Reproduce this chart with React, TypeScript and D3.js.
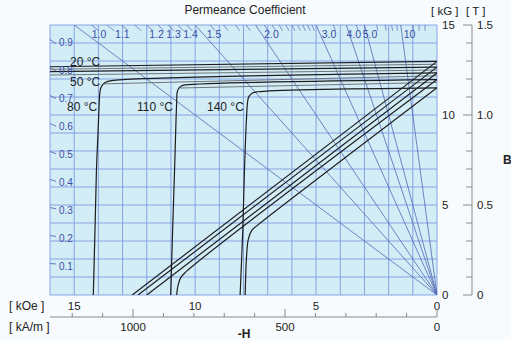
import React from "react";
import * as d3 from "d3";

// ---------- data (H in kOe as positive -H, B/J in kG) ----------
const temperatures = ["20 °C", "50 °C", "80 °C", "110 °C", "140 °C"];

const jCurve20 = [[0, 12.98], [16, 12.68]];
const jCurve50 = [[0, 12.66], [16, 12.41]];
const jCurve80 = [[0, 12.34], [13.45, 11.91], [13.7, 11.82], [13.88, 11.57], [13.94, 11.24], [13.96, 10.83], [14.01, 9.17], [14.08, 6.94], [14.14, 3.61], [14.21, 0]];
const jCurve110 = [[0, 11.97], [10.41, 11.67], [10.57, 11.61], [10.7, 11.43], [10.75, 11.19], [10.76, 10.83], [10.79, 9.72], [10.85, 6.94], [10.93, 3.61], [11.01, 0]];
const jCurve140 = [[0, 11.51], [7.42, 11.29], [7.63, 11.22], [7.78, 11.02], [7.83, 10.74], [7.88, 9.72], [7.96, 6.94], [8.03, 3.61], [8.14, 0]];

// grey companion lines just below the upper J curves
const jGrey20 = [[0, 12.82], [16, 12.54]];
const jGrey50 = [[0, 12.5], [16, 12.22]];
const jGrey80 = [[0, 12.18], [13.77, 11.73]];
const jGrey110 = [[0, 11.81], [10.62, 11.5]];

const bCurve20 = [[0, 12.98], [12.6, 0]];
const bCurve50 = [[0, 12.66], [12.36, 0]];
const bCurve80 = [[0, 12.34], [12.0, 0]];
const bCurve110 = [[0, 11.97], [10.4, 1.26], [10.6, 0.95], [10.72, 0.45], [10.76, 0]];
const bCurve140 = [[0, 11.51], [7.45, 3.84], [7.65, 3.6], [7.8, 3.1], [7.88, 2.0], [7.93, 0]];

const jCurves = [jCurve20, jCurve50, jCurve80, jCurve110, jCurve140];
const jGreyCurves = [jGrey20, jGrey50, jGrey80, jGrey110];
const bCurves = [bCurve20, bCurve50, bCurve80, bCurve110, bCurve140];

const permeanceLines = [1.0, 1.5, 2.0, 3.0, 4.0, 5.0, 10];
const permeanceLabelValues = [1.0, 1.1, 1.2, 1.3, 1.4, 1.5, 2.0, 3.0, 4.0, 5.0, 10];
const permeanceLabelText = ["1.0", "1.1", "1.2", "1.3", "1.4", "1.5", "2.0", "3.0", "4.0", "5.0", "10"];
const permeanceMinor = [1.05, 1.1, 1.15, 1.2, 1.25, 1.3, 1.35, 1.4, 1.45, 1.6, 1.7, 1.8, 1.9, 2.1, 2.2, 2.3, 2.4, 2.5, 2.6, 2.7, 2.8, 2.9, 3.5, 4.5, 6, 7, 8, 9, 15, 20, 30];
const leftScaleValues = [0.1, 0.2, 0.3, 0.4, 0.5, 0.6, 0.7, 0.8, 0.9];
const leftScaleText = ["0.1", "0.2", "0.3", "0.4", "0.5", "0.6", "0.7", "0.8", "0.9"];

const kOeTicks = [15, 10, 5, 0];
const kAmTicks = [0, 100, 200, 300, 400, 500, 600, 700, 800, 900, 1000, 1100, 1200];
const kAmLabels = [1000, 500, 0];
const kGTicks = [15, 10, 5, 0];
const teslaTicks = [0, 0.1, 0.2, 0.3, 0.4, 0.5, 0.6, 0.7, 0.8, 0.9, 1.0, 1.1, 1.2, 1.3, 1.4, 1.5];
const teslaLabels = [1.5, 1.0, 0.5, 0];

// ---------- layout ----------
const W = 511, HT = 340;
const X0 = 50, X1 = 437, Y0 = 25, Y1 = 295;
const FONT = "'Liberation Sans', Arial, sans-serif";
const BLUE_TXT = "#3a4ea6";
const GRID = "#7d9be0";
const PC = "#4b5fae";
const CURVE = "#1d1d1d";
const AXIS = "#8a8a8a";

export default function App() {
  const x = d3.scaleLinear().domain([0, 16]).range([X1, X0]);
  const y = d3.scaleLinear().domain([0, 15]).range([Y1, Y0]);
  const xA = d3.scaleLinear().domain([0, (16 * 1000) / (4 * Math.PI)]).range([X1, X0]);
  const yT = d3.scaleLinear().domain([0, 1.5]).range([Y1, Y0]);
  const yLeft = d3.scaleLinear().domain([0, 1]).range([Y1, 15]);

  const line = d3
    .line<number[]>()
    .x((d) => x(d[0]))
    .y((d) => y(d[1]))
    .curve(d3.curveCatmullRom.alpha(0.5));

  const pcEnd = (pc: number) => {
    const h = Math.min(16, 15 / pc);
    return [h, pc * h];
  };

  const labelNudge: Record<string, number> = { "1.1": -8, "1.3": -5, "1.4": -7, "4.0": -4, "5.0": -5 };

  return (
    <svg width={W} height={HT} style={{ position: "absolute", left: 0, top: 0 }} fontFamily={FONT}>
      <defs>
        <clipPath id="plotclip">
          <rect x={X0} y={Y0} width={X1 - X0} height={Y1 - Y0} />
        </clipPath>
      </defs>
      <rect x={0} y={0} width={W} height={HT} fill="#f8fbfd" />
      <rect x={X0} y={Y0} width={X1 - X0} height={Y1 - Y0} fill="#d3edf7" />

      {/* grid */}
      <g stroke={GRID} strokeWidth={0.9}>
        {d3.range(0, 17).map((h) => (
          <line key={"gx" + h} x1={x(h)} x2={x(h)} y1={Y0} y2={Y1} />
        ))}
        {d3.range(0, 16).map((b) => (
          <line key={"gy" + b} x1={X0} x2={X1} y1={y(b)} y2={y(b)} />
        ))}
      </g>

      <g clipPath="url(#plotclip)">
        {/* permeance lines */}
        {permeanceLines.map((pc) => {
          const [h, b] = pcEnd(pc);
          return <line key={"pc" + pc} x1={x(0)} y1={y(0)} x2={x(h)} y2={y(b)} stroke={PC} strokeWidth={0.75} />;
        })}
        {/* permeance hatch ticks at the top edge */}
        {permeanceMinor.map((pc) => {
          const [h, b] = pcEnd(pc);
          const b2 = b - 0.32;
          const h2 = b2 / pc;
          return <line key={"pm" + pc} x1={x(h)} y1={y(b)} x2={x(h2)} y2={y(b2)} stroke={PC} strokeWidth={0.65} />;
        })}
        {/* left-edge permeance ticks */}
        {leftScaleValues.map((v) => {
          const yy = yLeft(v) - 3.5;
          return <line key={"lt" + v} x1={X0} y1={yy} x2={X0 + 6} y2={yy + 6 * v * 0.74} stroke={PC} strokeWidth={0.8} />;
        })}

        {/* curves */}
        {jGreyCurves.map((c, i) => (
          <path key={"jg" + i} d={line(c) || ""} fill="none" stroke="#6f7478" strokeWidth={1} />
        ))}
        {jCurves.map((c, i) => (
          <path key={"j" + i} d={line(c) || ""} fill="none" stroke={CURVE} strokeWidth={1.2} />
        ))}
        {bCurves.map((c, i) => (
          <path key={"b" + i} d={line(c) || ""} fill="none" stroke={CURVE} strokeWidth={1.2} />
        ))}
      </g>

      {/* top permeance labels */}
      {permeanceLabelValues.map((pc, i) => {
        const t = permeanceLabelText[i];
        const cx = 28.4 + 0.951 * x(15 / pc) + (labelNudge[t] || 0);
        return (
          <text key={"pl" + t} x={cx} y={38} fontSize={10.5} fill={BLUE_TXT} textAnchor="middle">
            {t}
          </text>
        );
      })}
      {/* left permeance labels */}
      {leftScaleValues.map((v, i) => (
        <text key={"ll" + v} x={59} y={yLeft(v) + 2.5} fontSize={10} fill={BLUE_TXT}>
          {leftScaleText[i]}
        </text>
      ))}

      {/* temperature labels */}
      <g fontSize={12} fill="#222">
        <text x={70} y={66}>{temperatures[0]}</text>
        <text x={70} y={85.5}>{temperatures[1]}</text>
        <text x={67} y={110.5}>{temperatures[2]}</text>
        <text x={137} y={110.5}>{temperatures[3]}</text>
        <text x={207} y={110.5}>{temperatures[4]}</text>
      </g>

      {/* title */}
      <text x={245} y={14} fontSize={12} fill="#222" textAnchor="middle">
        Permeance Coefficient
      </text>

      {/* right axes */}
      <text x={431} y={15} fontSize={11.5} fill="#222">[ kG ]</text>
      <text x={466} y={15} fontSize={11.5} fill="#222">[ T ]</text>
      {kGTicks.map((v) => (
        <text key={"kg" + v} x={442} y={y(v) + 4} fontSize={11.5} fill="#222">
          {v}
        </text>
      ))}
      <line x1={472} x2={472} y1={Y0} y2={Y1} stroke={AXIS} strokeWidth={1} />
      {teslaTicks.map((v) => {
        const major = Math.abs(v * 2 - Math.round(v * 2)) < 1e-6;
        return <line key={"tt" + v} x1={major ? 463 : 466} x2={472} y1={yT(v)} y2={yT(v)} stroke={AXIS} strokeWidth={1} />;
      })}
      {teslaLabels.map((v) => (
        <text key={"tl" + v} x={477} y={yT(v) + 4} fontSize={11.5} fill="#222">
          {v === 0 ? "0" : v.toFixed(1)}
        </text>
      ))}
      <text x={503} y={164} fontSize={12} fontWeight="bold" fill="#222">B</text>

      {/* bottom axes */}
      <text x={9} y={310} fontSize={12} fill="#222">[ kOe ]</text>
      {kOeTicks.map((v) => (
        <text key={"ko" + v} x={x(v)} y={310} fontSize={11.5} fill="#222" textAnchor="middle">
          {v}
        </text>
      ))}
      <line x1={X0} x2={X1} y1={317} y2={317} stroke={AXIS} strokeWidth={1} />
      {kAmTicks.map((v) => {
        const major = v % 500 === 0;
        return <line key={"ka" + v} x1={xA(v)} x2={xA(v)} y1={317} y2={major ? 309 : 313} stroke={AXIS} strokeWidth={1} />;
      })}
      <text x={9} y={331} fontSize={12} fill="#222">[ kA/m ]</text>
      {kAmLabels.map((v) => (
        <text key={"kal" + v} x={xA(v)} y={331} fontSize={11.5} fill="#222" textAnchor="middle">
          {v}
        </text>
      ))}
      <text x={244} y={337.5} fontSize={12} fontWeight="bold" fill="#222" textAnchor="middle">-H</text>
    </svg>
  );
}
